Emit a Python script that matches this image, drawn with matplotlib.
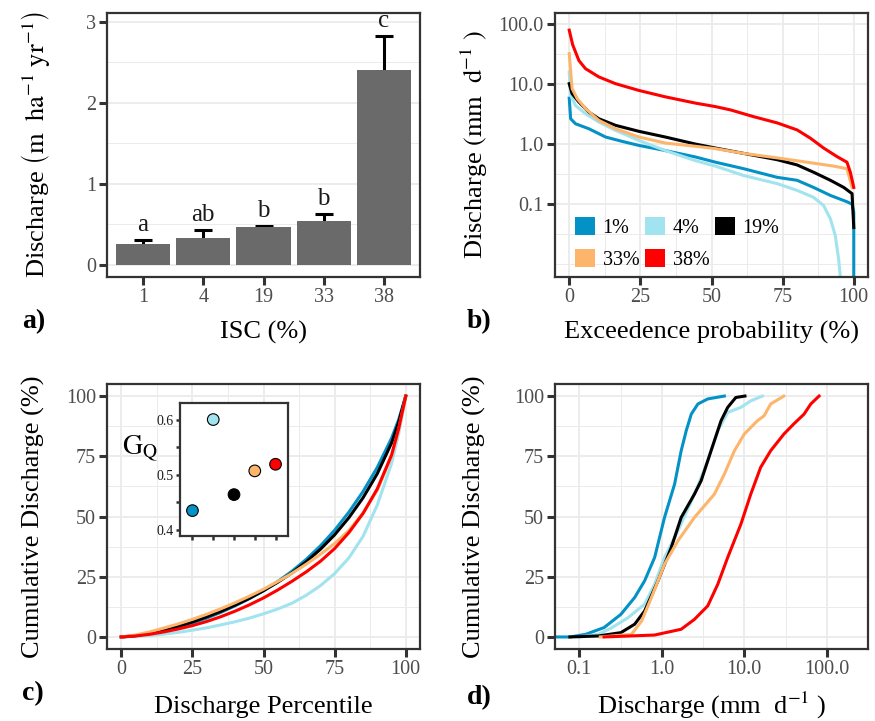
import numpy as np
import matplotlib
matplotlib.use('Agg')
import matplotlib.pyplot as plt
from matplotlib.patches import Patch

plt.rcParams['font.family'] = ['Liberation Serif', 'DejaVu Serif']
plt.rcParams['mathtext.fontset'] = 'stix'

# ---------------- data ----------------
isc = ['1', '4', '19', '33', '38']
series_names = ['1%', '4%', '19%', '33%', '38%']
colours = ['#0492c6', '#a1e3ee', '#000000', '#fdb56b', '#ff0000']

# a) mean annual discharge and standard error
bar_mean = [0.26, 0.33, 0.47, 0.54, 2.40]
bar_err = [0.05, 0.10, 0.015, 0.09, 0.42]
bar_letters = ['a', 'ab', 'b', 'b', 'c']

# b) flow duration curves (exceedance %, discharge mm/d)
fdc_p_1 = [0, 0.5, 2.2, 6.9, 12.8, 18.6, 24.5, 33.8, 44.4, 51.4, 61.3, 73.1, 80.1, 85.9, 91.8, 97.6, 99.4, 100, 100]
fdc_q_1 = [5.8, 2.64, 2.18, 1.80, 1.31, 1.11, 0.95, 0.78, 0.61, 0.50, 0.39, 0.28, 0.25, 0.19, 0.14, 0.11, 0.10, 0.074, 0.001]
fdc_p_4 = [0, 0.5, 2.2, 5.7, 10.4, 16.3, 24.5, 33.8, 44.4, 51.4, 61.3, 73.1, 80.1, 85.9, 89.4, 91.8, 93.5, 94.7, 95.3]
fdc_q_4 = [15.8, 6.5, 4.4, 3.2, 2.33, 1.69, 1.15, 0.78, 0.53, 0.43, 0.30, 0.22, 0.17, 0.13, 0.095, 0.057, 0.030, 0.012, 0.006]
fdc_p_19 = [0, 1.0, 3.4, 6.9, 10.4, 16.3, 24.5, 33.8, 44.4, 51.4, 61.3, 73.1, 80.1, 85.9, 91.8, 96.5, 99.4, 100]
fdc_q_19 = [10.1, 6.9, 5.0, 3.4, 2.64, 2.05, 1.63, 1.31, 1.0, 0.86, 0.70, 0.55, 0.45, 0.34, 0.25, 0.19, 0.15, 0.041]
fdc_p_33 = [0, 1.0, 2.8, 5.7, 10.4, 16.3, 24.5, 33.8, 44.4, 51.4, 61.3, 73.1, 84.8, 93.0, 97.6, 99.4]
fdc_q_33 = [32.0, 8.4, 5.7, 3.9, 2.48, 1.80, 1.31, 1.04, 0.92, 0.84, 0.70, 0.59, 0.49, 0.43, 0.39, 0.19]
fdc_p_38 = [0, 1.2, 3.4, 5.7, 10.4, 16.3, 24.5, 33.8, 44.4, 51.4, 56.7, 64.9, 73.1, 80.1, 84.8, 89.4, 94.1, 97.6, 98.8, 100]
fdc_q_38 = [78.5, 45.0, 24.5, 18.0, 13.1, 10.1, 7.8, 6.1, 4.8, 4.2, 3.7, 2.85, 2.25, 1.72, 1.25, 0.86, 0.62, 0.50, 0.34, 0.19]

# c) Lorenz-type curves (discharge percentile vs cumulative discharge)
lor_x = [0, 5, 10, 15, 20, 25, 30, 35, 40, 45, 50, 55, 60, 65, 70, 75, 80, 85, 90, 95, 97.5, 100]
lor_1 = [0, 0.4, 1.3, 2.5, 4.0, 5.8, 7.8, 10.2, 12.9, 15.9, 19.2, 23.0, 27.3, 32.2, 37.8, 44.3, 51.8, 60.4, 70.4, 82.5, 90.2, 100]
lor_4 = [0, 0.2, 0.6, 1.2, 1.9, 2.8, 3.8, 5.0, 6.3, 7.8, 9.6, 11.6, 14.0, 17.3, 21.3, 26.3, 32.8, 41.8, 54.8, 72.0, 84.5, 100]
lor_19 = [0, 0.5, 1.5, 2.8, 4.4, 6.2, 8.3, 10.6, 13.2, 16.0, 19.2, 22.7, 26.6, 31.2, 36.4, 42.4, 49.5, 57.8, 67.8, 80.5, 89.2, 100]
lor_33 = [0, 0.8, 2.1, 3.7, 5.4, 7.3, 9.4, 11.7, 14.2, 16.9, 19.8, 23.0, 26.4, 30.2, 34.3, 38.8, 44.2, 51.5, 61.0, 75.0, 86.0, 100]
lor_38 = [0, 0.4, 1.1, 2.1, 3.3, 4.7, 6.4, 8.4, 10.7, 13.3, 16.2, 19.5, 23.1, 27.0, 31.4, 36.7, 43.3, 51.3, 61.5, 75.5, 86.5, 100]
gini = [0.435, 0.600, 0.464, 0.507, 0.519]

# d) cumulative discharge vs discharge (mm/d)
cd_q_1 = [0.051, 0.078, 0.12, 0.20, 0.32, 0.47, 0.62, 0.82, 1.08, 1.43, 1.72, 1.98, 2.28, 2.74, 3.61, 5.74]
cd_y_1 = [0, 0, 1.1, 3.9, 9.4, 16.4, 23.3, 33.0, 49.6, 63.4, 77.3, 85.6, 92.5, 96.7, 98.8, 100]
cd_q_4 = [0.10, 0.17, 0.25, 0.39, 0.62, 0.82, 1.08, 1.57, 2.49, 3.61, 4.78, 6.3, 9.1, 12.0, 16.6]
cd_y_4 = [0, 1.1, 3.9, 8.0, 13.6, 21.9, 33.0, 44.0, 59.3, 73.1, 85.6, 93.2, 95.3, 98.0, 100]
cd_q_19 = [0.077, 0.17, 0.32, 0.47, 0.62, 0.90, 1.30, 1.72, 2.49, 3.0, 3.96, 5.24, 6.3, 7.9, 10.2]
cd_y_19 = [0, 0.4, 1.8, 5.3, 10.8, 23.3, 37.0, 49.6, 59.3, 64.8, 77.3, 89.8, 95.3, 99.4, 100]
cd_q_33 = [0.18, 0.43, 0.57, 0.75, 1.08, 1.57, 2.49, 4.35, 5.74, 7.6, 10.0, 14.5, 17.4, 20.9, 30.2]
cd_y_33 = [0, 1.1, 6.6, 16.4, 30.2, 39.9, 49.6, 59.3, 67.6, 77.3, 84.2, 89.8, 91.8, 96.7, 100]
cd_q_38 = [0.20, 0.82, 1.72, 2.49, 3.61, 4.78, 6.3, 9.1, 12.0, 15.8, 20.9, 30.2, 39.8, 53.1, 64.0, 80.7]
cd_y_38 = [0, 0.8, 3.2, 7.3, 12.9, 21.9, 33.0, 46.8, 59.3, 70.4, 77.3, 84.2, 88.4, 92.5, 96.7, 100]

fdc_p = [fdc_p_1, fdc_p_4, fdc_p_19, fdc_p_33, fdc_p_38]
fdc_q = [fdc_q_1, fdc_q_4, fdc_q_19, fdc_q_33, fdc_q_38]
lor_y = [lor_1, lor_4, lor_19, lor_33, lor_38]
cd_q = [cd_q_1, cd_q_4, cd_q_19, cd_q_33, cd_q_38]
cd_y = [cd_y_1, cd_y_4, cd_y_19, cd_y_33, cd_y_38]

# ---------------- style helpers ----------------
GRID = '#ebebeb'
TICKLAB = '#4d4d4d'
FRAME = '#333333'
TICKFS = 14.5
LABFS = 19


def style(ax, xgrid=True):
    ax.set_facecolor('white')
    for s in ax.spines.values():
        s.set_color(FRAME)
        s.set_linewidth(1.6)
    ax.tick_params(which='major', length=6, width=2.2, color=FRAME,
                   labelcolor=TICKLAB, labelsize=TICKFS, pad=2)
    ax.tick_params(which='minor', length=0)
    ax.grid(which='major', axis='y', color=GRID, lw=1.3)
    ax.grid(which='minor', axis='y', color=GRID, lw=0.7)
    if xgrid:
        ax.grid(which='major', axis='x', color=GRID, lw=1.3)
        ax.grid(which='minor', axis='x', color=GRID, lw=0.7)
    ax.set_axisbelow(True)


fig = plt.figure(figsize=(8.75, 7.21), dpi=100)
W, H = 875, 721


def add_axes_px(x0, y0, x1, y1):
    return fig.add_axes([x0 / W, 1 - y1 / H, (x1 - x0) / W, (y1 - y0) / H])


# ---------------- a) ----------------
ax = add_axes_px(107, 13, 420, 277)
style(ax, xgrid=False)
pos = np.arange(1, len(isc) + 1)
eb = ax.errorbar(pos, bar_mean, yerr=[np.zeros(len(bar_err)), bar_err], fmt='none',
                 ecolor='black', elinewidth=2.2, capsize=6.5, capthick=2.2, zorder=2)
eb[1][0].set_visible(False)  # no cap at the bar top
ax.bar(pos, bar_mean, width=0.9, color='#6a6a6a', zorder=3)
for p, m, e, t in zip(pos, bar_mean, bar_err, bar_letters):
    ax.text(p, m + e + 0.05, t, ha='center', va='bottom', fontsize=18, color='#1a1a1a')
ax.set_xlim(0.4, 5.6)
ax.set_ylim(-0.15, 3.11)
ax.set_xticks(pos, isc)
ax.set_yticks([0, 1, 2, 3])
ax.set_yticks([0.5, 1.5, 2.5], minor=True)
ax.set_xlabel('ISC (%)', fontsize=LABFS, labelpad=10)
ax.set_ylabel(r'Discharge $\left(\mathrm{m\ \ ha^{-1}\ yr^{-1}}\right)$', fontsize=LABFS, labelpad=24)

# ---------------- b) ----------------
ax = add_axes_px(555, 13, 868, 277)
style(ax)
for p, q, c in zip(fdc_p, fdc_q, colours):
    ax.plot(p, q, color=c, lw=2.2, solid_joinstyle='round')
ax.set_yscale('log')
ax.set_xlim(-5, 105)
ax.set_ylim(10 ** -2.21, 10 ** 2.18)
ax.set_xticks([0, 25, 50, 75, 100])
ax.set_xticks([12.5, 37.5, 62.5, 87.5], minor=True)
ax.set_yticks([0.1, 1, 10, 100], ['0.1', '1.0', '10.0', '100.0'])
ax.set_yticks([10 ** -2, 10 ** -1.5, 10 ** -0.5, 10 ** 0.5, 10 ** 1.5], minor=True)
ax.set_yticklabels([], minor=True)
ax.set_xlabel('Exceedence probability (%)', fontsize=LABFS, labelpad=10)
ax.set_ylabel(r'Discharge $\left(\mathrm{mm\ \ d^{-1}}\ \right)$', fontsize=LABFS, labelpad=6)
handles = [Patch(facecolor=c, edgecolor='none', label=n) for c, n in zip(colours, series_names)]
order = [0, 3, 1, 4, 2]
ax.legend([handles[i] for i in order], [series_names[i] for i in order], ncol=3,
          loc='lower left', bbox_to_anchor=(0.02, -0.025), frameon=False,
          fontsize=TICKFS, handlelength=1.0, handleheight=1.0,
          handletextpad=0.35, columnspacing=0.3, labelspacing=0.55, borderpad=0.2)

# ---------------- c) ----------------
ax = add_axes_px(107, 384, 420, 649)
style(ax)
for y, c in zip(lor_y, colours):
    ax.plot(lor_x, y, color=c, lw=2.2)
ax.set_xlim(-5, 105)
ax.set_ylim(-5, 105)
ax.set_xticks([0, 25, 50, 75, 100])
ax.set_xticks([12.5, 37.5, 62.5, 87.5], minor=True)
ax.set_yticks([0, 25, 50, 75, 100])
ax.set_yticks([12.5, 37.5, 62.5, 87.5], minor=True)
ax.set_xlabel('Discharge Percentile', fontsize=LABFS, labelpad=12)
ax.set_ylabel('Cumulative Discharge (%)', fontsize=LABFS, labelpad=15)

# inset with G_Q
ins = add_axes_px(180, 403, 288, 536)
ins.set_facecolor('white')
for s in ins.spines.values():
    s.set_color(FRAME)
    s.set_linewidth(1.6)
ins.scatter(pos, gini, s=70, c=colours, edgecolors='black', linewidths=0.8, zorder=3)
ins.set_xlim(0.4, 5.6)
ins.set_ylim(0.389, 0.630)
ins.set_xticks(pos, [])
ins.set_yticks([0.4, 0.5, 0.6], ['0.4', '0.5', '0.6'])
ins.set_yticks([0.45, 0.55], minor=True)
ins.tick_params(which='both', length=3, width=1.8, color=FRAME, labelcolor='#1a1a1a',
                labelsize=10, pad=1.5)
ins.set_ylabel(r'$\mathrm{G_Q}$', fontsize=20, rotation=0, ha='center', va='center')
ins.yaxis.set_label_coords(-0.37, 0.66)

# ---------------- d) ----------------
ax = add_axes_px(555, 384, 868, 649)
style(ax)
for q, y, c in zip(cd_q, cd_y, colours):
    ax.plot(q, y, color=c, lw=2.2)
ax.set_xscale('log')
ax.set_xlim(10 ** -1.294, 10 ** 2.48)
ax.set_ylim(-5, 105)
ax.set_xticks([0.1, 1, 10, 100], ['0.1', '1.0', '10.0', '100.0'])
ax.set_xticks([10 ** -0.5, 10 ** 0.5, 10 ** 1.5, 10 ** 2.5], minor=True)
ax.set_xticklabels([], minor=True)
ax.set_yticks([0, 25, 50, 75, 100])
ax.set_yticks([12.5, 37.5, 62.5, 87.5], minor=True)
ax.set_xlabel(r'Discharge (mm  d$^{-1}$ )', fontsize=LABFS, labelpad=8)
ax.set_ylabel('Cumulative Discharge (%)', fontsize=LABFS, labelpad=20)

# panel letters
for lab, x, y in [('a)', 22, 322), ('b)', 467, 322), ('c)', 22, 694), ('d)', 467, 698)]:
    fig.text(x / W, 1 - y / H, lab, fontsize=20, fontweight='bold', va='center', ha='left')

fig.savefig('out.png', dpi=100, facecolor='white')
